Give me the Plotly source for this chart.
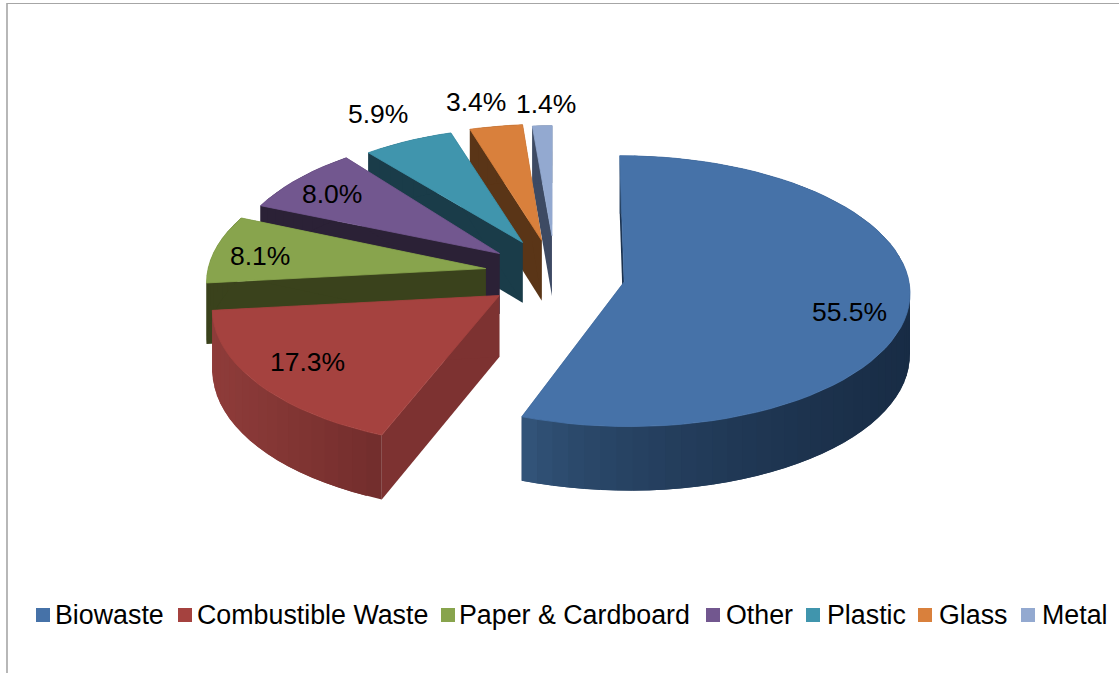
import math
import plotly.graph_objects as go

categories = ["Biowaste", "Combustible Waste", "Paper & Cardboard", "Other", "Plastic", "Glass", "Metal"]
values = [55.5, 17.3, 8.1, 8.0, 5.9, 3.4, 1.4]
top_colors = ["#4672A8", "#A5423F", "#88A44D", "#72578F", "#4095AD", "#D9803C", "#93A9D0"]
face_colors = ["#1C3350", "#7D3231", "#3A421C", "#2B2136", "#1A3C49", "#5A3517", "#3D4A63"]
wall_left = ["#35587F", "#8F3C3A", "#3A421C", "#2B2136", "#1A3C49", "#5A3517", "#3D4A63"]
wall_right = ["#182C45", "#722D2C", "#3A421C", "#2B2136", "#1A3C49", "#5A3517", "#3D4A63"]
explode = [0.245, 0.245, 0.245, 0.245, 0.245, 0.245, 0.245]
lift_px = [0, 1, 3, 3, 5, 4, 8]
rim_x = [0.993, 0.99, 0.975, 0.95, 0.93, 0.945, 0.85]
rim_y = [1.0, 1.02, 1.0, 1.0, 0.98, 0.985, 0.97]
rot_deg = [0, 1.2, 2, 1, 0, 0.5, 0]
label_xy = [(849, 312), (307, 362), (260, 256), (332, 194), (378, 114), (476, 102), (546, 104)]
legend_key_x = [36, 178, 441, 706, 806, 918, 1021]
legend_text_x = [55, 197, 459, 726, 827, 939, 1042]

CX, CY, A, B, K, DEPTH, DEPTH_TAPER = 555, 276, 286, 134, 0.068, 61, 0.05


def project(X, Y, down=0.0, lift=0.0):
    f = 1 / (1 + K * Y)
    return CX + A * X * f, CY - B * Y * f + down * DEPTH * (1 - DEPTH_TAPER * Y) - lift


def hex_mix(c1, c2, t):
    p = [int(c1[i:i + 2], 16) for i in (1, 3, 5)]
    q = [int(c2[i:i + 2], 16) for i in (1, 3, 5)]
    return "#" + "".join(f"{round(a + (b - a) * t):02x}" for a, b in zip(p, q))


fig = go.Figure()


def poly(pts, color, name, width=0.0):
    xs = [p[0] for p in pts] + [pts[0][0]]
    ys = [p[1] for p in pts] + [pts[0][1]]
    fig.add_trace(go.Scatter(
        x=xs, y=ys, mode="lines", fill="toself", fillcolor=color,
        line=dict(color=color, width=width),
        name=name, hoverinfo="name", showlegend=False,
    ))


total = sum(values)
starts = []
acc = 0.0
for v in values:
    starts.append(acc / total * 2 * math.pi)
    acc += v
ends = starts[1:] + [2 * math.pi]

for i in reversed(range(len(values))):
    s, e = starts[i], ends[i]
    mid = (s + e) / 2
    ox, oy = explode[i] * math.sin(mid), explode[i] * math.cos(mid)
    rot = math.radians(rot_deg[i])
    n = max(6, int((e - s) / math.radians(3)))
    angles = [s + rot + (e - s) * j / n for j in range(n + 1)]
    rim = [(ox + rim_x[i] * math.sin(t), oy + rim_y[i] * math.cos(t)) for t in angles]
    lift = lift_px[i]

    # flat radial faces
    for (qx, qy) in (rim[0], rim[-1]):
        poly([project(ox, oy, 0, lift), project(qx, qy),
              project(qx, qy, 1), project(ox, oy, 1, lift)],
             face_colors[i], categories[i])
    # curved outer wall: overlapping strips so that no seam shows
    xpix = [project(*p)[0] for p in rim]
    lo, hi = min(xpix), max(xpix)
    for j in range(n):
        t = ((xpix[j] + xpix[j + 1]) / 2 - lo) / (hi - lo)
        if i == 0:
            t = t ** 0.55
        k = min(j + 2, n)
        poly([project(*rim[j]), project(*rim[k]), project(*rim[k], 1), project(*rim[j], 1)],
             hex_mix(wall_left[i], wall_right[i], t), categories[i])
    # top surface
    poly([project(ox, oy, 0, lift)] + [project(*p) for p in rim], top_colors[i], categories[i], width=0.8)

annotations = []
for v, (lx, ly) in zip(values, label_xy):
    annotations.append(dict(x=lx, y=ly, xref="x", yref="y", text=f"{v:.1f}%", showarrow=False,
                            font=dict(family="Liberation Sans, Arial, sans-serif", size=26.5, color="#000000")))
shapes = [
    dict(type="line", x0=7, x1=7, y0=3, y1=673, line=dict(color="#a6a6a6", width=1.6)),
    dict(type="line", x0=7, x1=1119, y0=3.5, y1=3.5, line=dict(color="#a6a6a6", width=1.2)),
]
for name, kx, tx, col in zip(categories, legend_key_x, legend_text_x, top_colors):
    shapes.append(dict(type="rect", x0=kx, x1=kx + 14, y0=608, y1=622, fillcolor=col, line=dict(width=0)))
    annotations.append(dict(x=tx, y=615, xref="x", yref="y", xanchor="left", text=name, showarrow=False,
                            xshift=-2, font=dict(family="Liberation Sans, Arial, sans-serif", size=26.8, color="#000000")))

fig.update_layout(
    width=1119, height=673, margin=dict(l=0, r=0, t=0, b=0),
    paper_bgcolor="#ffffff", plot_bgcolor="#ffffff", showlegend=False,
    xaxis=dict(range=[0, 1119], visible=False, fixedrange=True),
    yaxis=dict(range=[673, 0], visible=False, fixedrange=True),
    annotations=annotations, shapes=shapes,
)
fig.write_html("out.html", config={"displayModeBar": False},
               post_script="document.body.style.margin='0';document.body.style.overflow='hidden';")
